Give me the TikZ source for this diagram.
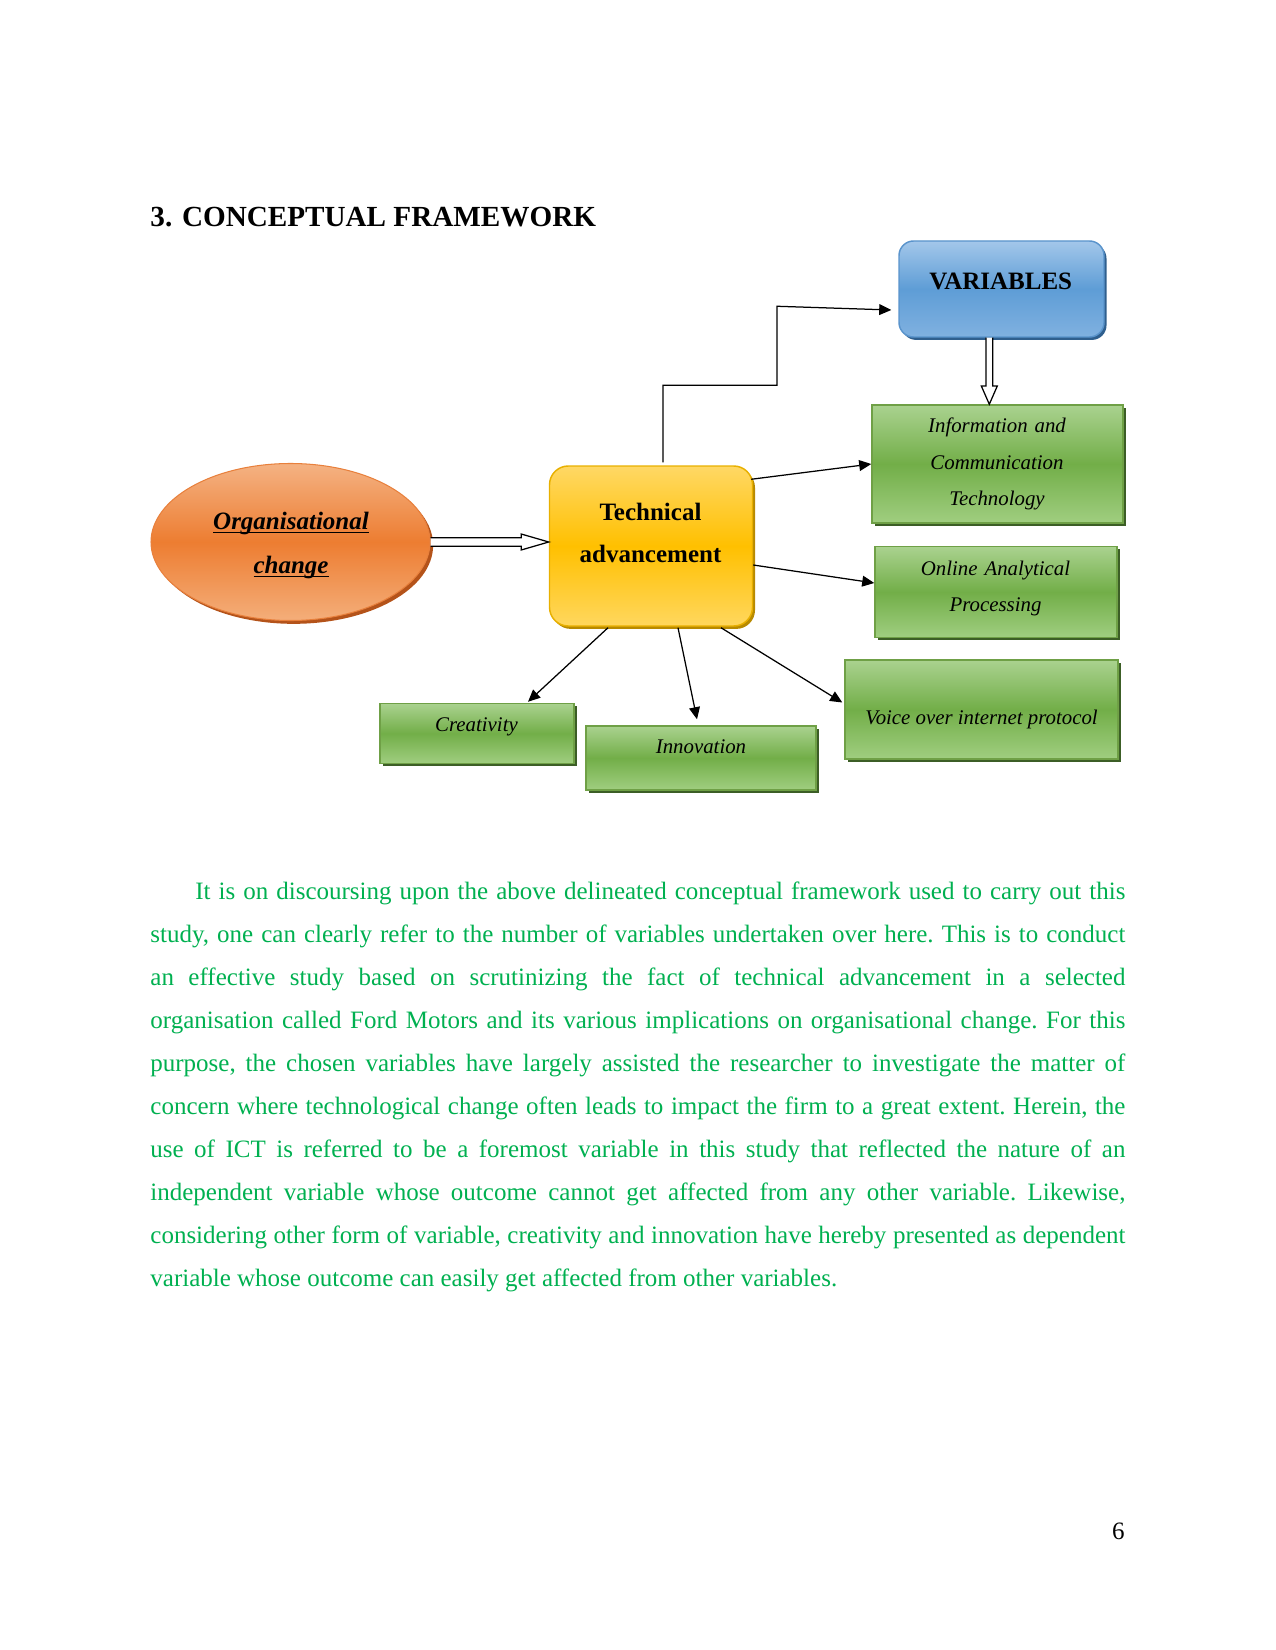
\documentclass[tikz,border=0pt]{standalone}
\usepackage{fontspec}
\setmainfont{Liberation Serif}
\usetikzlibrary{shadows,arrows.meta,calc,shapes.geometric}
\definecolor{gtop}{HTML}{AAD28F}
\definecolor{gmid}{HTML}{72AE48}
\definecolor{gbot}{HTML}{A0CE80}
\definecolor{gborder}{HTML}{6FA046}
\definecolor{gshadow}{HTML}{3C5E26}
\definecolor{ytop}{HTML}{FFD865}
\definecolor{ymid}{HTML}{FFC000}
\definecolor{ybot}{HTML}{FFD75E}
\definecolor{yborder}{HTML}{E8B000}
\definecolor{yshadow}{HTML}{B88A00}
\definecolor{btop}{HTML}{A3C7EA}
\definecolor{bmid}{HTML}{5E9DD6}
\definecolor{bbot}{HTML}{80B1E0}
\definecolor{bborder}{HTML}{5A94CC}
\definecolor{bshadow}{HTML}{2F5F8E}
\definecolor{otop}{HTML}{F4B283}
\definecolor{omid}{HTML}{ED7D31}
\definecolor{obot}{HTML}{F4AE7A}
\definecolor{oborder}{HTML}{E8803C}
\definecolor{oshadow}{HTML}{B4531A}
\definecolor{bodygreen}{HTML}{00B050}
\newcommand\myul[1]{\underline{\smash{#1}}}
\newcommand\jline[2][468pt]{\makebox[#1][s]{#2}}
\begin{document}
\begin{tikzpicture}[x=0.48pt,y=-0.48pt,
  sz/.style 2 args={minimum width={#1*0.48pt}, minimum height={#2*0.48pt}, inner sep=0pt},
  gbox/.style={draw=gborder, line width=0.7pt, top color=gtop, bottom color=gbot, middle color=gmid,
    drop shadow={shadow xshift=1.3pt, shadow yshift=-1.4pt, opacity=1, fill=gshadow}},
  ybox/.style={draw=yborder, line width=0.7pt, rounded corners=9pt, top color=ytop, bottom color=ybot, middle color=ymid,
    drop shadow={shadow xshift=1.2pt, shadow yshift=-1.4pt, opacity=1, fill=yshadow}},
  bbox/.style={draw=bborder, line width=0.7pt, rounded corners=7pt, top color=btop, bottom color=bbot, middle color=bmid,
    drop shadow={shadow xshift=1.2pt, shadow yshift=-1.4pt, opacity=1, fill=bshadow}},
  obox/.style={ellipse, draw=oborder, line width=0.5pt, top color=otop, bottom color=obot, middle color=omid,
    drop shadow={shadow xshift=1.5pt, shadow yshift=-1.6pt, opacity=1, fill=oshadow}},
  lbl/.style={inner sep=0pt, anchor=base, align=center},
  itl/.style={lbl, font=\itshape\fontsize{10}{17.3}\selectfont},
  bld/.style={lbl, font=\bfseries\fontsize{12}{20.6}\selectfont},
  arr/.style={line width=0.6pt, -{Triangle[length=5.8pt,width=5.2pt]}},
  hollow/.style={line width=0.6pt, fill=white, line join=miter}
]
\useasboundingbox (0,0) rectangle (1275,1650);

% heading
\node[inner sep=0pt, anchor=base west, font=\bfseries\fontsize{14}{16}\selectfont] (head) at (150,226.5) {3. CONCEPTUAL FRAMEWORK};

% shapes
\node[bbox, sz={205}{96}] (var) at (1001.5,289) {};
\node[gbox, sz={251}{118}] (ict) at (997.5,464) {};
\node[gbox, sz={242}{91}] (olap) at (996,592) {};
\node[gbox, sz={273}{99}] (voip) at (981.5,709.5) {};
\node[gbox, sz={194}{60}] (crea) at (477,733.5) {};
\node[gbox, sz={230}{64}] (inno) at (701,758) {};
\node[ybox, sz={203}{160}] (tech) at (651,546) {};
\node[obox, sz={279}{157}] (ell) at (290.5,542) {};

% labels
\node[bld] (vart) at (1000.8,290) {VARIABLES};
\node[itl, text width={230*0.48pt}] (ictt) at (997,433) {Information and\\Communication\\Technology};
\node[itl, text width={230*0.48pt}] (olapt) at (995.5,575) {Online Analytical\\Processing};
\node[itl] (voipt) at (981.5,724) {Voice over internet protocol};
\node[itl] (creat) at (476.5,731.5) {Creativity};
\node[itl] (innot) at (701,753) {Innovation};
\node[bld, text width={190*0.48pt}] (techt) at (650.5,520) {Technical\\advancement};
\node[lbl, text width={250*0.48pt}, font=\bfseries\itshape\fontsize{12}{20.9}\selectfont] (ellt) at (291,529.5) {\myul{Organisational}\\\myul{change}};

% hollow arrows
\coordinate (ha) at (ell.east);
\coordinate (hb) at (tech.west |- ell.east);
\draw[hollow] ($(ha)+(0,-4.2)$) -- ($(hb)+(-27.6,-4.2)$) -- ($(hb)+(-27.6,-8)$) -- (hb)
  -- ($(hb)+(-27.6,8)$) -- ($(hb)+(-27.6,4.2)$) -- ($(ha)+(0,4.2)$);
\coordinate (va) at ($(var.south)+(-12.2,0)$);
\coordinate (vb) at (va |- ict.north);
\draw[hollow] ($(va)+(-3.35,0)$) -- ($(vb)+(-3.35,-18.3)$) -- ($(vb)+(-8,-18.3)$) -- (vb)
  -- ($(vb)+(8,-18.3)$) -- ($(vb)+(3.35,-18.3)$) -- ($(va)+(3.35,0)$);

% connectors
\draw[arr] ($(tech.north)+(12,-3)$) -- ++(0,-77) -- ++(114,0) -- ++(0,-79) -- ($(var.west)+(-7,21)$);
\draw[arr] ($(tech.north east)+(-2,14)$) -- (ict.west);
\draw[arr] ($(tech.east)+(0,19)$) -- ($(olap.west)+(0,-9)$);
\draw[arr] ($(tech.south)+(-43,1)$) -- ($(crea.north)+(51,-1)$);
\draw[arr] ($(tech.south)+(27,1)$) -- ($(inno.north)+(-4,-6)$);
\draw[arr] ($(tech.south)+(70,1)$) -- ($(voip.west)+(-2,-7)$);

% body text
\node[inner sep=0pt, anchor=base west, text width=468pt, align=left, text=bodygreen,
  font=\fontsize{12}{20.66}\selectfont] (body) at (150,899.3) {%
\spaceskip=0pt\xspaceskip=0pt\frenchspacing
\hspace*{21.6pt}\jline[446.4pt]{It is on discoursing upon the above delineated conceptual framework used to carry out this}\\
\jline{study, one can clearly refer to the number of variables undertaken over here. This is to conduct}\\
\jline{an effective study based on scrutinizing the fact of technical advancement in a selected}\\
\jline{organisation called Ford Motors and its various implications on organisational change. For this}\\
\jline{purpose, the chosen variables have largely assisted the researcher to investigate the matter of}\\
\jline{concern where technological change often leads to impact the firm to a great extent. Herein, the}\\
\jline{use of ICT is referred to be a foremost variable in this study that reflected the nature of an}\\
\jline{independent variable whose outcome cannot get affected from any other variable. Likewise,}\\
\jline{considering other form of variable, creativity and innovation have hereby presented as dependent}\\
variable whose outcome can easily get affected from other variables.};

% page number
\node[inner sep=0pt, anchor=base east, font=\fontsize{12}{14}\selectfont] (pnum) at (1125,1539.3) {6};
\end{tikzpicture}
\end{document}
